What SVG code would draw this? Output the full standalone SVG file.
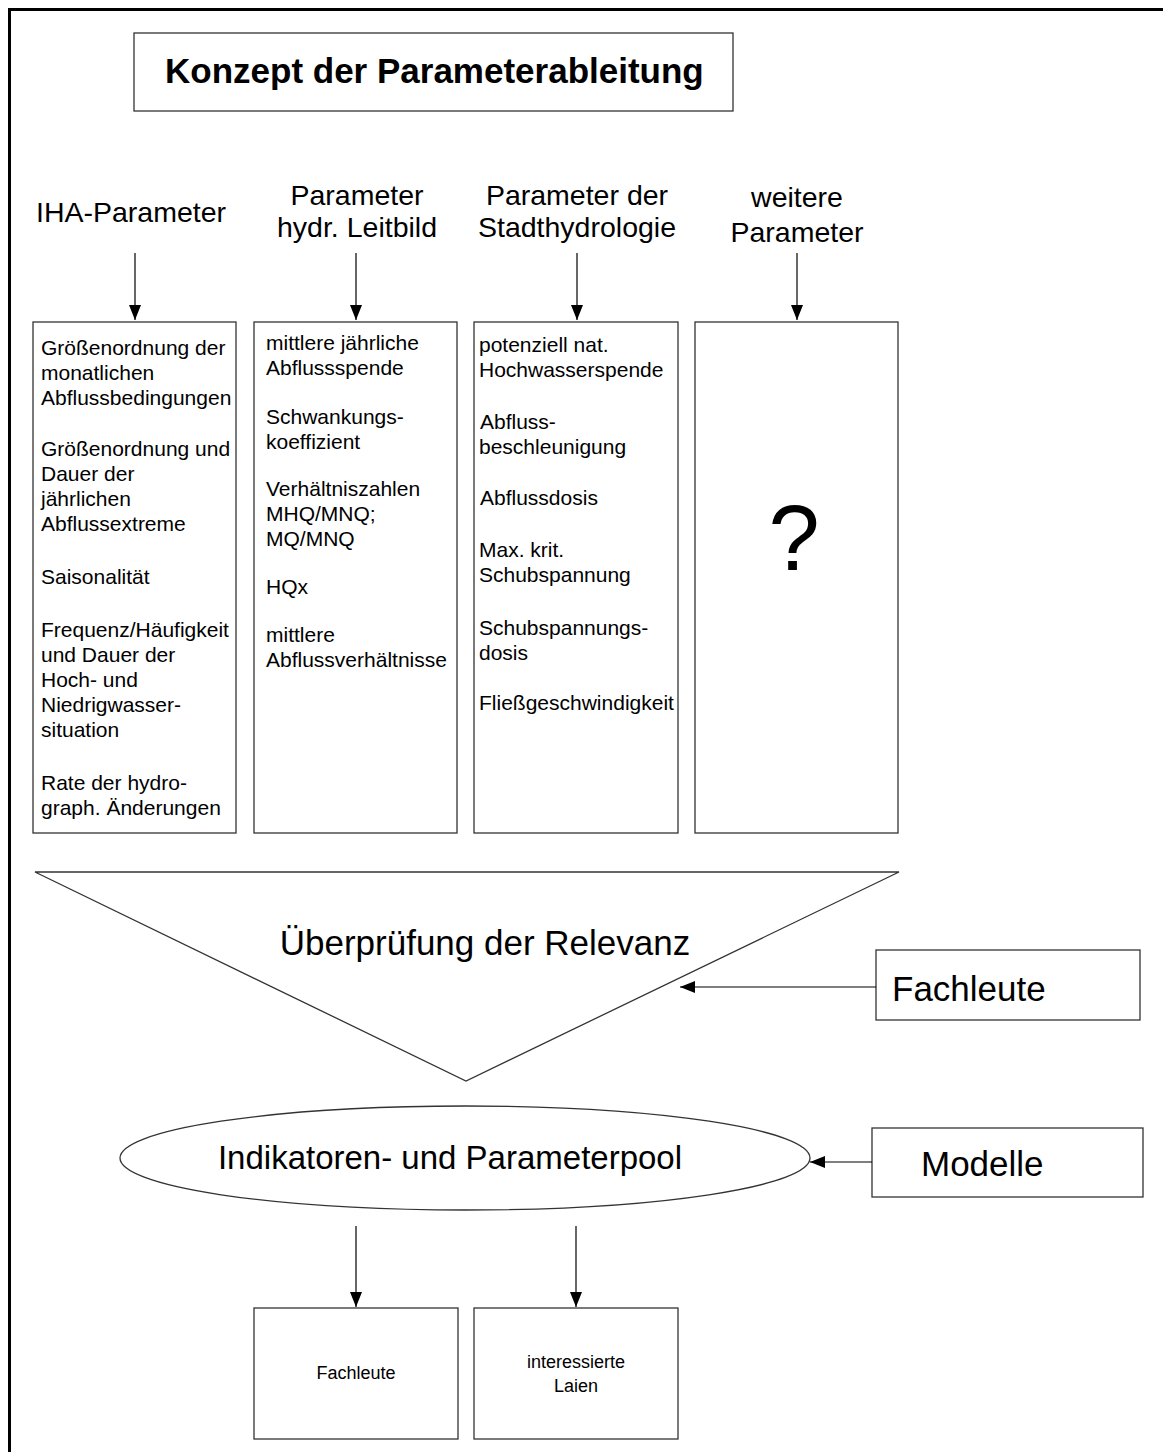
<svg xmlns="http://www.w3.org/2000/svg" width="1163" height="1452" viewBox="0 0 1163 1452">
<style>
.box{fill:#fff;stroke:#333;stroke-width:1.3}
.t{font-family:"Liberation Sans",Arial,sans-serif;fill:#000}
.bt{font-size:21px}
.hd{font-size:28.5px;text-anchor:middle}
.big{font-size:35px}
.sm{font-size:18px;text-anchor:middle}
.con{stroke:#000;stroke-width:1.2;fill:none}
.frame{stroke:#000;stroke-width:3;fill:none}
</style>
<defs>
<marker id="ah" viewBox="0 0 15 12" refX="15" refY="6" markerWidth="15" markerHeight="12" markerUnits="userSpaceOnUse" orient="auto">
<path d="M0,0 L15,6 L0,12 Z" fill="#000"/>
</marker>
</defs>
<rect x="0" y="0" width="1163" height="1452" fill="#fff"/>
<path class="frame" d="M9.5,1452 L9.5,9.5 L1163,9.5"/>

<g id="title">
<rect class="box" x="134" y="33" width="599" height="78"/>
<text class="t" x="165" y="83" font-size="35" font-weight="bold">Konzept der Parameterableitung</text>
</g>

<g id="h1"><text class="t hd" x="131" y="222">IHA-Parameter</text></g>
<g id="h2"><text class="t hd" x="357" y="205">Parameter</text><text class="t hd" x="357" y="237">hydr. Leitbild</text></g>
<g id="h3"><text class="t hd" x="577" y="205">Parameter der</text><text class="t hd" x="577" y="237">Stadthydrologie</text></g>
<g id="h4"><text class="t hd" x="797" y="207">weitere</text><text class="t hd" x="797" y="242">Parameter</text></g>

<g id="b1">
<rect class="box" x="33" y="322" width="203" height="511"/>
<text class="t bt">
<tspan x="41" y="355">Größenordnung der</tspan>
<tspan x="41" y="380">monatlichen</tspan>
<tspan x="41" y="405">Abflussbedingungen</tspan>
<tspan x="41" y="456">Größenordnung und</tspan>
<tspan x="41" y="481">Dauer der</tspan>
<tspan x="41" y="506">jährlichen</tspan>
<tspan x="41" y="531">Abflussextreme</tspan>
<tspan x="41" y="584">Saisonalität</tspan>
<tspan x="41" y="637">Frequenz/Häufigkeit</tspan>
<tspan x="41" y="662">und Dauer der</tspan>
<tspan x="41" y="687">Hoch- und</tspan>
<tspan x="41" y="712">Niedrigwasser-</tspan>
<tspan x="41" y="737">situation</tspan>
<tspan x="41" y="790">Rate der hydro-</tspan>
<tspan x="41" y="815">graph. Änderungen</tspan>
</text>
</g>

<g id="b2">
<rect class="box" x="254" y="322" width="203" height="511"/>
<text class="t bt">
<tspan x="266" y="350">mittlere jährliche</tspan>
<tspan x="266" y="375">Abflussspende</tspan>
<tspan x="266" y="424">Schwankungs-</tspan>
<tspan x="266" y="449">koeffizient</tspan>
<tspan x="266" y="496">Verhältniszahlen</tspan>
<tspan x="266" y="521">MHQ/MNQ;</tspan>
<tspan x="266" y="546">MQ/MNQ</tspan>
<tspan x="266" y="594">HQx</tspan>
<tspan x="266" y="642">mittlere</tspan>
<tspan x="266" y="667">Abflussverhältnisse</tspan>
</text>
</g>

<g id="b3">
<rect class="box" x="474" y="322" width="204" height="511"/>
<text class="t bt">
<tspan x="479" y="352">potenziell nat.</tspan>
<tspan x="479" y="377">Hochwasserspende</tspan>
<tspan x="480" y="429">Abfluss-</tspan>
<tspan x="479" y="454">beschleunigung</tspan>
<tspan x="480" y="505">Abflussdosis</tspan>
<tspan x="479" y="557">Max. krit.</tspan>
<tspan x="479" y="582">Schubspannung</tspan>
<tspan x="479" y="635">Schubspannungs-</tspan>
<tspan x="479" y="660">dosis</tspan>
<tspan x="479" y="710">Fließgeschwindigkeit</tspan>
</text>
</g>

<g id="b4">
<rect class="box" x="695" y="322" width="203" height="511"/>
<text class="t" x="794" y="570" font-size="92" text-anchor="middle">?</text>
</g>

<g id="relevanz">
<path class="box" d="M35,872 L899,872 L466,1081 Z"/>
<text class="t big" x="485" y="955" text-anchor="middle">Überprüfung der Relevanz</text>
</g>

<g id="fachleute1">
<rect class="box" x="876" y="950" width="264" height="70"/>
<text class="t big" x="892" y="1001">Fachleute</text>
</g>

<g id="pool">
<ellipse class="box" cx="465" cy="1158" rx="345" ry="52"/>
<text class="t" x="450" y="1169" font-size="33" text-anchor="middle">Indikatoren- und Parameterpool</text>
</g>

<g id="modelle">
<rect class="box" x="872" y="1128" width="271" height="69"/>
<text class="t big" x="921" y="1176">Modelle</text>
</g>

<g id="fachleute2">
<rect class="box" x="254" y="1308" width="204" height="131"/>
<text class="t sm" x="356" y="1379">Fachleute</text>
</g>

<g id="laien">
<rect class="box" x="474" y="1308" width="204" height="131"/>
<text class="t sm" x="576" y="1368">interessierte</text>
<text class="t sm" x="576" y="1392">Laien</text>
</g>

<g id="connectors">
<line class="con" x1="135" y1="253" x2="135" y2="320" marker-end="url(#ah)"/>
<line class="con" x1="356" y1="253" x2="356" y2="320" marker-end="url(#ah)"/>
<line class="con" x1="577" y1="253" x2="577" y2="320" marker-end="url(#ah)"/>
<line class="con" x1="797" y1="253" x2="797" y2="320" marker-end="url(#ah)"/>
<line class="con" x1="876" y1="987" x2="680" y2="987" marker-end="url(#ah)"/>
<line class="con" x1="872" y1="1162" x2="810" y2="1162" marker-end="url(#ah)"/>
<line class="con" x1="356" y1="1226" x2="356" y2="1307" marker-end="url(#ah)"/>
<line class="con" x1="576" y1="1226" x2="576" y2="1307" marker-end="url(#ah)"/>
</g>
</svg>
